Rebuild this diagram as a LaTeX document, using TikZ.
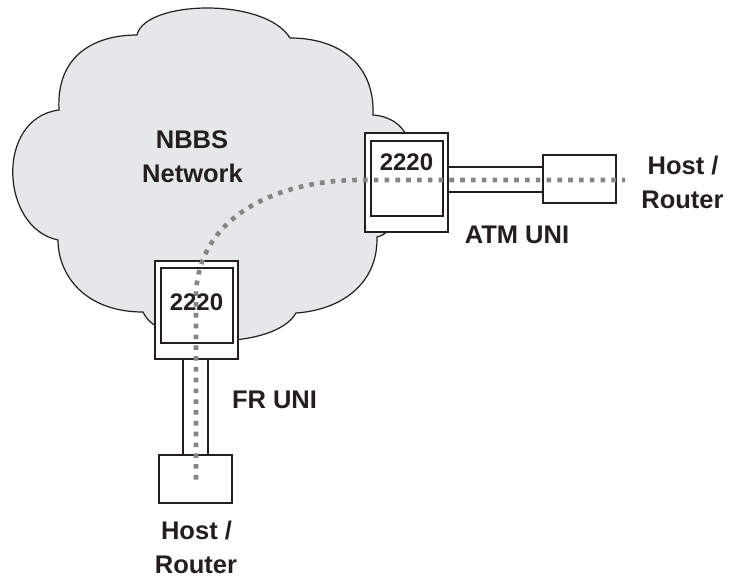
\documentclass[tikz,border=0pt]{standalone}
\usepackage{fontspec}
\setmainfont{Liberation Sans}
\definecolor{cloudfill}{HTML}{E6E7E8}
\definecolor{ink}{HTML}{231F20}
\definecolor{dotgray}{HTML}{858585}
\begin{document}
\begin{tikzpicture}[x=1pt,y=-1pt,
  cloudline/.style={draw=ink,line width=1.2pt,fill=cloudfill},
  outerbox/.style={draw=ink,line width=2pt,fill=white,inner sep=0pt,minimum width=83pt},
  innerbox/.style={draw=ink,line width=2pt,fill=white,inner sep=0pt,minimum width=72.5pt,minimum height=75pt},
  hostbox/.style={draw=ink,line width=1.8pt,fill=white,inner sep=0pt,minimum width=73pt,minimum height=48pt},
  link/.style={draw=ink,line width=1.6pt},
  dots/.style={draw=dotgray,line width=4.6pt,dash pattern=on 4.6pt off 6.2pt},
  lbl/.style={font=\fontsize{25.5}{30}\selectfont\bfseries,text=ink,inner sep=0pt,anchor=base},
  num/.style={font=\fontsize{24}{28}\selectfont\bfseries,text=ink,inner sep=0pt,anchor=base}]
\useasboundingbox (0,0) rectangle (730,579);
% cloud
\path[cloudline] (137,35) .. controls (145,0) and (265,-3) .. (290,38)
  .. controls (340,38) and (375,65) .. (373,115)
  .. controls (440,120) and (410,230) .. (377,237)
  .. controls (378,285) and (340,310) .. (296,313)
  .. controls (275,350) and (160,350) .. (143,312)
  .. controls (85,312) and (58,275) .. (58,240)
  .. controls (0,228) and (-5,118) .. (59,110)
  .. controls (56,55) and (95,35) .. (137,35) -- cycle;
\node[lbl] (nbbs) at (192,148) {NBBS};
\node[lbl] (network) at (192.5,182) {Network};
% ATM side
\node[outerbox,minimum height=99pt] (atmout) at (406.5,182.5) {};
\node[innerbox] (atmin) at (406.75,178.5) {};
\node[hostbox] (atmhost) at (579.5,179) {};
\coordinate (ya) at (0,167);
\coordinate (yb) at (0,192);
\draw[link] (atmout.east |- ya) -- (atmhost.west |- ya);
\draw[link] (atmout.east |- yb) -- (atmhost.west |- yb);
% FR side
\node[outerbox,minimum height=98pt] (frout) at (196.5,310) {};
\node[innerbox,minimum width=72pt] (frin) at (197,305.5) {};
\node[hostbox] (frhost) at (195.5,479) {};
\coordinate (xa) at (183,0);
\coordinate (xb) at (208,0);
\draw[link] (frout.south -| xa) -- (frhost.north -| xa);
\draw[link] (frout.south -| xb) -- (frhost.north -| xb);
% dotted connection
\coordinate (dotR) at (625,180);
\coordinate (dotB) at (196,479.5);
\draw[dots] (dotB) -- (196,295) .. controls (198,215) and (280,180) .. (360,180) -- (dotR);
% labels
\node[num] (n1) at (406.5,170) {2220};
\node[num] (n2) at (196.5,310) {2220};
\node[lbl] (atmuni) at (517,243) {ATM UNI};
\node[lbl] (fruni) at (274.5,408) {FR UNI};
\node[lbl] (h1a) at (683,174) {Host /};
\node[lbl] (h1b) at (682.5,208) {Router};
\node[lbl] (h2a) at (196.5,539) {Host /};
\node[lbl] (h2b) at (196,573) {Router};
\end{tikzpicture}
\end{document}
